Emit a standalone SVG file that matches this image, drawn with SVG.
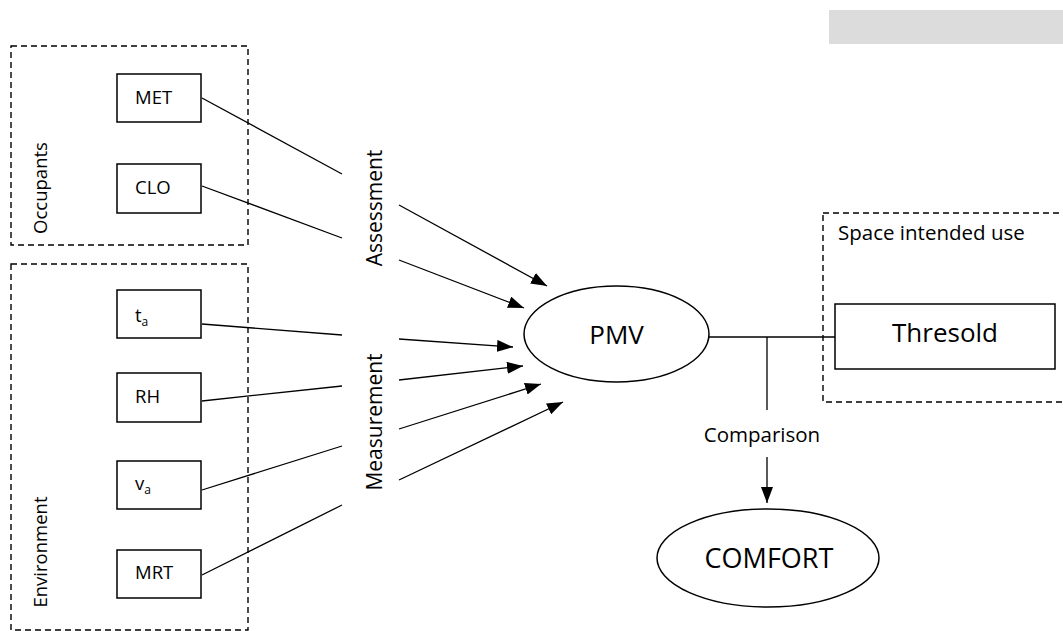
<svg xmlns="http://www.w3.org/2000/svg" width="1063" height="631" viewBox="0 0 1063 631">
<defs>
<marker id="ah" markerWidth="16" markerHeight="12" refX="16" refY="6" orient="auto" markerUnits="userSpaceOnUse">
<path d="M0,0 L16,6 L0,12 Z" fill="#000"/>
</marker>
<style>
.box{fill:#fff;stroke:#000;stroke-width:1.5}
.dash{fill:none;stroke:#000;stroke-width:1.4;stroke-dasharray:6 4}
.ln{fill:none;stroke:#000;stroke-width:1.3}
.ar{fill:none;stroke:#000;stroke-width:1.3;marker-end:url(#ah)}
text{font-family:"Open Sans","Noto Sans","Liberation Sans",sans-serif;fill:#000}
.s18{font-size:18.5px}
.s20{font-size:20.5px}
.s21{font-size:21px}
.s26{font-size:26px}
</style>
</defs>
<rect width="1063" height="631" fill="#fff"/>
<rect x="829" y="10" width="234" height="34" fill="#dcdcdd"/>

<g id="occupants">
<rect class="dash" x="11" y="46" width="237" height="199"/>
<text class="s18" text-anchor="middle" transform="translate(47,188) rotate(-90)">Occupants</text>
</g>
<g id="environment">
<rect class="dash" x="11" y="264" width="237" height="366"/>
<text class="s18" text-anchor="middle" transform="translate(47,552) rotate(-90)">Environment</text>
</g>
<g id="space">
<rect class="dash" x="823" y="213" width="260" height="189"/>
<text class="s20" x="838" y="240">Space intended use</text>
</g>

<g id="met"><rect class="box" x="117" y="74" width="84" height="48"/><text class="s18" x="135" y="104">MET</text></g>
<g id="clo"><rect class="box" x="117" y="164" width="84" height="49"/><text class="s18" x="135" y="194">CLO</text></g>
<g id="ta"><rect class="box" x="117" y="290" width="84" height="48"/><text class="s18" x="135" y="322">t<tspan font-size="12" dy="4">a</tspan></text></g>
<g id="rh"><rect class="box" x="117" y="373" width="84" height="49"/><text class="s18" x="135" y="403">RH</text></g>
<g id="va"><rect class="box" x="117" y="461" width="84" height="48"/><text class="s18" x="135" y="490">v<tspan font-size="12" dy="4">a</tspan></text></g>
<g id="mrt"><rect class="box" x="117" y="550" width="84" height="48"/><text class="s18" x="135" y="579">MRT</text></g>

<g id="pmv"><ellipse class="box" cx="616.5" cy="334" rx="92.5" ry="48"/><text class="s26" x="616.5" y="344" text-anchor="middle">PMV</text></g>
<g id="thresold"><rect class="box" x="835" y="304" width="220" height="65"/><text class="s26" x="945" y="342" text-anchor="middle">Thresold</text></g>
<g id="comfort"><ellipse class="box" cx="768" cy="558" rx="111" ry="49"/><text x="769" y="568" text-anchor="middle" font-size="27">COMFORT</text></g>

<g id="labels">
<text class="s21" text-anchor="middle" transform="translate(382,208) rotate(-90)">Assessment</text>
<text class="s21" text-anchor="middle" transform="translate(382,422) rotate(-90)">Measurement</text>
<text class="s20" x="762" y="442" text-anchor="middle">Comparison</text>
</g>

<g id="connectors">
<line class="ln" x1="202" y1="98" x2="342" y2="174"/>
<line class="ln" x1="202" y1="186" x2="342" y2="238"/>
<line class="ln" x1="202" y1="324" x2="342" y2="335"/>
<line class="ln" x1="202" y1="401" x2="342" y2="386"/>
<line class="ln" x1="202" y1="490" x2="342" y2="446"/>
<line class="ln" x1="202" y1="575" x2="342" y2="505"/>
<line class="ar" x1="399" y1="205" x2="547" y2="286"/>
<line class="ar" x1="399" y1="260" x2="524" y2="308"/>
<line class="ar" x1="399" y1="339" x2="513" y2="347"/>
<line class="ar" x1="399" y1="380" x2="523" y2="366"/>
<line class="ar" x1="399" y1="429" x2="541" y2="384"/>
<line class="ar" x1="399" y1="480" x2="563" y2="402"/>
<line class="ln" x1="709" y1="337" x2="835" y2="337"/>
<line class="ln" x1="767" y1="337" x2="767" y2="410"/>
<line class="ar" x1="767" y1="457" x2="767" y2="503"/>
</g>
</svg>
